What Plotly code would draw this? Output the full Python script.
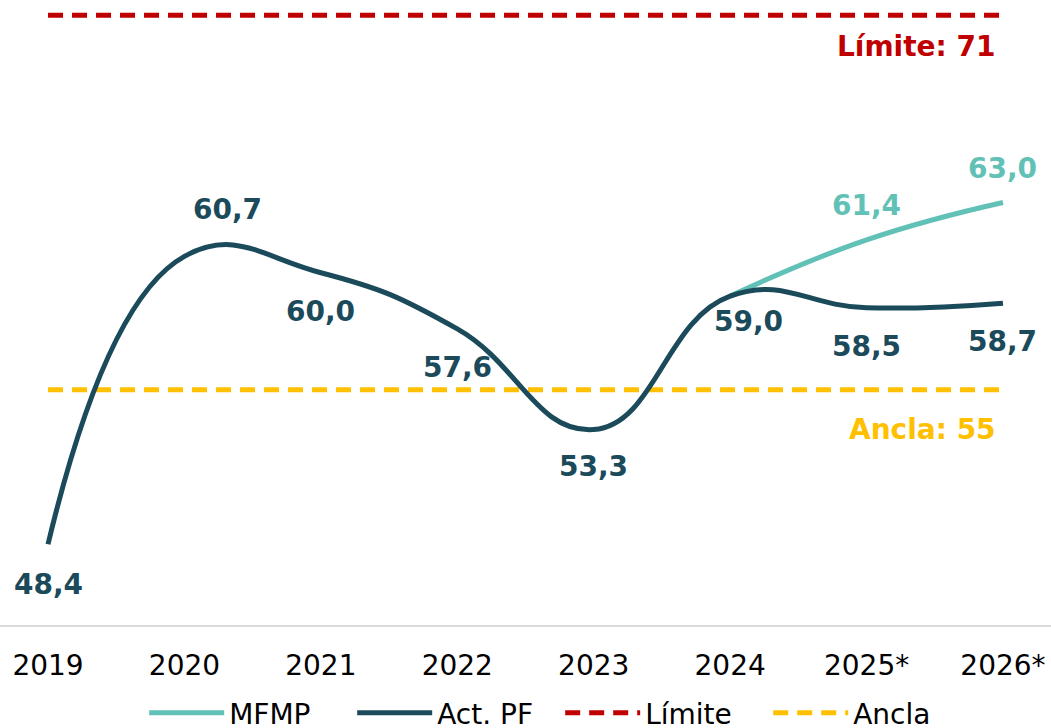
import plotly.graph_objects as go

years = ["2019", "2020", "2021", "2022", "2023", "2024", "2025*", "2026*"]
act_pf = [48.4, 60.7, 60.0, 57.6, 53.3, 59.0, 58.5, 58.7]
mfmp_years = ["2024", "2025*", "2026*"]
mfmp = [59.0, 61.4, 63.0]
limite = 71
ancla = 55

DARK = "#1b4a5b"
TEAL = "#62c1b6"
RED = "#c00000"
GOLD = "#ffc000"
FONT = "DejaVu Sans"

fig = go.Figure()

fig.add_trace(go.Scatter(x=years, y=[limite] * len(years), mode="lines", name="Límite",
                         line=dict(color=RED, width=5, dash="15px,9px"), legendrank=3))
fig.add_trace(go.Scatter(x=years, y=[ancla] * len(years), mode="lines", name="Ancla",
                         line=dict(color=GOLD, width=5, dash="15px,9px"), legendrank=4))
fig.add_trace(go.Scatter(x=mfmp_years, y=mfmp, mode="lines", name="MFMP",
                         line=dict(color=TEAL, width=5, shape="spline", smoothing=1.3), legendrank=1))
fig.add_trace(go.Scatter(x=years, y=act_pf, mode="lines", name="Act. PF",
                         line=dict(color=DARK, width=5, shape="spline", smoothing=1.3), legendrank=2))

def idx(cat):
    return years.index(cat)

# data labels (offsets in pixels)
dark_shifts = [(0, -40), (43, 47), (0, -39), (0, -39), (0, -37), (18, -25), (0, -39), (0, -38)]
for x, v, (dx, dy) in zip(years, act_pf, dark_shifts):
    fig.add_annotation(x=idx(x), y=v, text=f"{v:.1f}".replace(".", ","), showarrow=False,
                       xshift=dx, yshift=dy, font=dict(family=FONT, size=28, color=DARK, weight="bold"))
for x, v in zip(mfmp_years[1:], mfmp[1:]):
    fig.add_annotation(x=idx(x), y=v, text=f"{v:.1f}".replace(".", ","), showarrow=False,
                       yshift=34, font=dict(family=FONT, size=28, color=TEAL, weight="bold"))

fig.add_annotation(x=idx(years[-1]), y=limite, text=f"Límite: {limite}", showarrow=False, xanchor="right",
                   xshift=-5, yshift=-31, font=dict(family=FONT, size=28, color=RED, weight="bold"))
fig.add_annotation(x=idx(years[-1]), y=ancla, text=f"Ancla: {ancla}", showarrow=False, xanchor="right",
                   xshift=-5, yshift=-40, font=dict(family=FONT, size=28, color=GOLD, weight="bold"))

fig.update_layout(
    width=1051, height=728,
    margin=dict(l=0, r=0, t=0, b=103, pad=0, autoexpand=False),
    plot_bgcolor="white", paper_bgcolor="white",
    font=dict(family=FONT, size=28, color="black"),
    showlegend=True,
    legend=dict(orientation="h", x=0.533, xanchor="center", y=-0.141, yanchor="middle",
                font=dict(family=FONT, size=28, color="black"), itemwidth=75, tracegroupgap=0,
                entrywidth=118, entrywidthmode="pixels"),
    xaxis=dict(type="category", range=[-0.352, 7.352], showgrid=False, zeroline=False,
               showline=True, linecolor="#d9d9d9", linewidth=2, ticks="", automargin=False,
               tickfont=dict(family=FONT, size=28, color="black"), ticklabelstandoff=14),
    yaxis=dict(range=[44.95, 71.65], visible=False, showgrid=False, zeroline=False, automargin=False),
)

fig.write_html("out.html", config={"displayModeBar": False},
               post_script="document.body.style.margin='0';document.body.style.overflow='hidden';")
